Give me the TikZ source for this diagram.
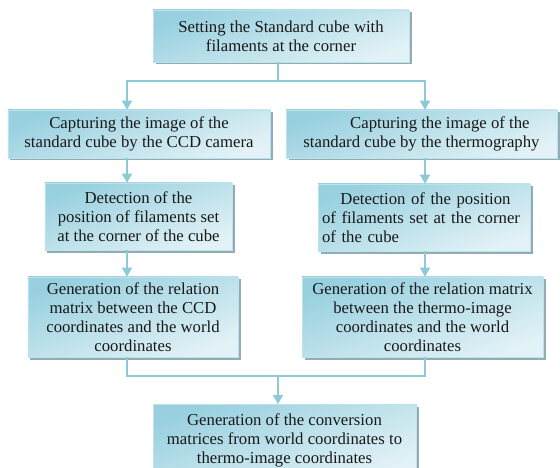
\documentclass[tikz,border=0pt]{standalone}
\usepackage{fontspec}
\setmainfont{Liberation Serif}
\usetikzlibrary{arrows.meta,shadows}

\definecolor{boxdark}{HTML}{98D0DF}
\definecolor{boxlight}{HTML}{E2F2F6}
\definecolor{boxedge}{HTML}{BCE2EB}
\definecolor{boxshadow}{HTML}{7E9DA6}
\definecolor{linecol}{HTML}{8CCAD8}

\begin{document}
\begin{tikzpicture}[x=1bp,y=-1bp,
    box/.style={draw=boxedge, line width=0.6bp, top color=boxdark, bottom color=boxlight,
      shading angle=20, inner sep=1bp,
      drop shadow={shadow xshift=2.5bp, shadow yshift=-2.5bp, fill=boxshadow, opacity=0.85},
      font=\fontsize{16.8}{19}\selectfont, text=black!90},
    conn/.style={draw=linecol, line width=1.6bp},
    arr/.style={conn, -{Triangle[width=10bp,length=9bp]}}]

  \useasboundingbox (0,0) rectangle (560,468);

  \node[box, minimum width=256bp, minimum height=52bp, align=center] (set) at (281,36)
    {Setting the Standard cube with\\filaments at the corner};

  \node[box, minimum width=262bp, minimum height=48bp, align=center] (capccd) at (139,134)
    {Capturing the image of the\\standard cube by the CCD camera};
  \node[box, minimum width=271bp, minimum height=48bp, align=center] (capth) at (421.5,134)
    {\hspace{2.2em}Capturing the image of the\\standard cube by the thermography};

  \node[box, minimum width=187bp, minimum height=67bp, align=center] (detccd) at (138.5,216.5)
    {Detection of the\\position of filaments set\\at the corner of the cube};
  \node[box, minimum width=212bp, minimum height=67bp, text width=204bp, align=left] (detth) at (424,217.5)
    {\hspace{1.1em}Detection of the position\\of filaments set at the corner\\of the cube};

  \node[box, minimum width=210bp, minimum height=80bp, align=center] (relccd) at (133,317)
    {Generation of the relation\\matrix between the CCD\\coordinates and the world\\coordinates};
  \node[box, minimum width=241bp, minimum height=80bp, align=center] (relth) at (422.5,317)
    {Generation of the relation matrix\\between the thermo-image\\coordinates and the world\\coordinates};

  \node[box, minimum width=263bp, minimum height=72bp, align=center, anchor=north] (conv) at (284.5,404)
    {Generation of the conversion\\matrices from world coordinates to\\thermo-image coordinates};

  \coordinate (colL) at (127,0);
  \coordinate (colR) at (425,0);
  \coordinate (split) at (278,81);
  \coordinate (join) at (278,376);

  \draw[conn] (set.south -| split) -- (split);
  \draw[arr] (split) -| (capccd.north -| colL);
  \draw[arr] (split) -| (capth.north -| colR);

  \draw[arr] (capccd.south -| colL) -- (detccd.north -| colL);
  \draw[arr] (capth.south -| colR) -- (detth.north -| colR);
  \draw[arr] (detccd.south -| colL) -- (relccd.north -| colL);
  \draw[arr] (detth.south -| colR) -- (relth.north -| colR);

  \draw[conn] (relccd.south -| colL) |- (join);
  \draw[conn] (relth.south -| colR) |- (join);
  \draw[arr] (join) -- (conv.north -| join);

\end{tikzpicture}
\end{document}
